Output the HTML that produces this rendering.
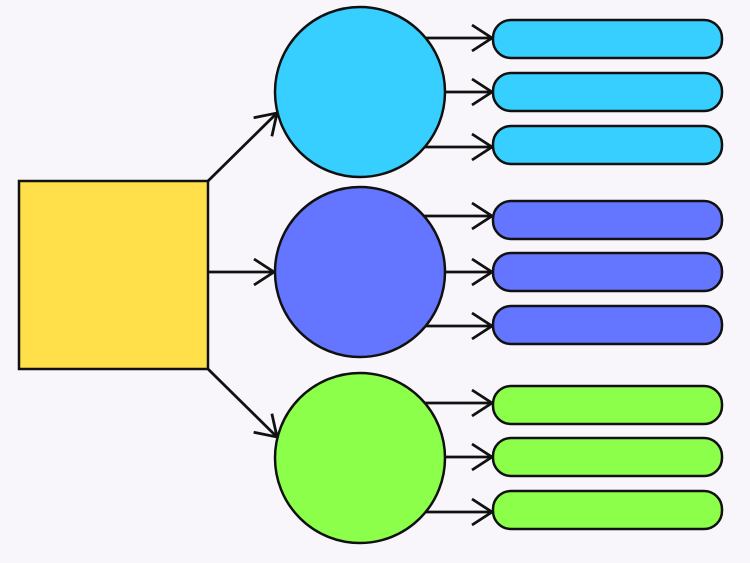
<!DOCTYPE html>
<html><head><style>html,body{margin:0;padding:0;background:#f8f6fb;}svg{display:block}</style></head><body>
<svg width="750" height="563" viewBox="0 0 750 563" xmlns="http://www.w3.org/2000/svg">
<defs>
<marker id="a" markerWidth="30" markerHeight="30" refX="24" refY="15" orient="auto" markerUnits="userSpaceOnUse">
<path d="M4,2 L24,15 L4,28" fill="none" stroke="#111" stroke-width="2.8"/>
</marker>
</defs>
<rect width="750" height="563" fill="#f8f6fb"/>
<g stroke="#111" stroke-width="2.8" fill="none" marker-end="url(#a)">
<line x1="208" y1="181" x2="277" y2="113"/>
<line x1="208" y1="272" x2="274" y2="272"/>
<line x1="208" y1="369" x2="277" y2="437"/>
<line x1="424" y1="38" x2="492" y2="38"/>
<line x1="444" y1="92" x2="492" y2="92"/>
<line x1="424" y1="147" x2="492" y2="147"/>
<line x1="424" y1="216" x2="492" y2="216"/>
<line x1="444" y1="272" x2="492" y2="272"/>
<line x1="424" y1="326" x2="492" y2="326"/>
<line x1="424" y1="403" x2="492" y2="403"/>
<line x1="444" y1="457" x2="492" y2="457"/>
<line x1="424" y1="512" x2="492" y2="512"/>
</g>
<g stroke="#111" stroke-width="2.5">
<rect x="19" y="181" width="189" height="188" fill="#ffe04b"/>
<circle cx="360" cy="92" r="85" fill="#36cfff"/>
<circle cx="360" cy="272" r="85" fill="#6475ff"/>
<circle cx="360" cy="458" r="85" fill="#8cff4a"/>
<g fill="#36cfff">
<rect x="493" y="20" width="229" height="38" rx="18"/>
<rect x="493" y="73" width="229" height="38" rx="18"/>
<rect x="493" y="126" width="229" height="38" rx="18"/>
</g>
<g fill="#6475ff">
<rect x="493" y="201" width="229" height="38" rx="18"/>
<rect x="493" y="253" width="229" height="38" rx="18"/>
<rect x="493" y="306" width="229" height="38" rx="18"/>
</g>
<g fill="#8cff4a">
<rect x="493" y="386" width="229" height="38" rx="18"/>
<rect x="493" y="438" width="229" height="38" rx="18"/>
<rect x="493" y="491" width="229" height="38" rx="18"/>
</g>
</g>
</svg>
</body></html>
